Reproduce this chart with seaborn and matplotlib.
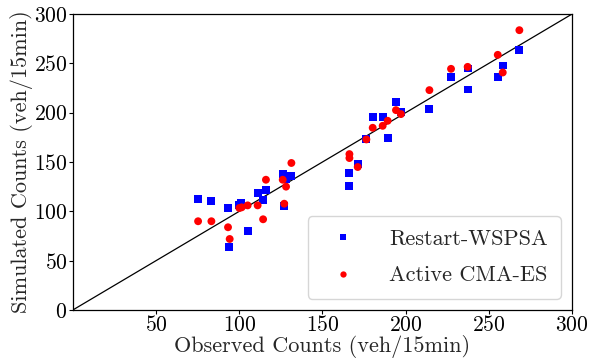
import matplotlib
matplotlib.use("Agg")
import matplotlib.pyplot as plt
import seaborn as sns
import pandas as pd

obs_wspsa = [75.2, 83.2, 93.2, 94.0, 100.0, 101.2, 105.0, 111.0, 116.2, 114.3, 126.1, 131.3, 127.0, 128.1,
             194.2, 180.2, 186.2, 197.4, 214.3, 176.4, 189.2, 171.2, 166.2, 166.2,
             227.3, 237.3, 237.3, 255.4, 258.4, 268.4]
sim_wspsa = [112.8, 110.1, 103.7, 63.5, 106.4, 108.0, 80.0, 118.8, 121.6, 111.4, 137.5, 136.0, 105.7, 133.0,
             210.7, 195.8, 195.8, 200.6, 203.6, 172.9, 174.0, 147.6, 138.8, 125.6,
             235.8, 244.9, 223.6, 235.8, 247.9, 263.7]
obs_cma = [75.2, 83.2, 93.2, 94.2, 100.0, 101.4, 105.0, 111.0, 114.3, 116.0, 126.1, 128.1, 131.3, 127.0,
           194.2, 197.2, 180.2, 186.2, 189.2, 176.4, 166.2, 166.2, 171.2, 214.3,
           227.3, 237.3, 255.4, 258.4, 268.4]
sim_cma = [89.9, 89.9, 83.8, 71.9, 103.3, 104.0, 106.0, 106.0, 91.9, 132.0, 132.0, 125.0, 149.0, 107.7,
           202.6, 198.6, 184.7, 186.7, 191.8, 172.9, 158.0, 154.0, 144.9, 222.9,
           244.5, 246.5, 258.7, 240.8, 283.7]
labels = ["Restart-WSPSA", "Active CMA-ES"]

df = pd.DataFrame({
    "obs": obs_wspsa + obs_cma,
    "sim": sim_wspsa + sim_cma,
    "method": [labels[0]] * len(obs_wspsa) + [labels[1]] * len(obs_cma),
})

sns.set_theme(style="white")
plt.rcParams["font.family"] = ["cmr10", "DejaVu Sans"]
plt.rcParams["mathtext.fontset"] = "cm"
plt.rcParams["axes.formatter.use_mathtext"] = True

fig = plt.figure(figsize=(5.89, 3.62), dpi=100)
ax = fig.add_axes([0.124, 0.144, 0.847, 0.817])

ax.plot([0, 300], [0, 300], color="black", lw=0.9, zorder=1)

sns.scatterplot(data=df, x="obs", y="sim", hue="method", style="method",
                palette={labels[0]: "#0000ff", labels[1]: "#ff0000"},
                markers={labels[0]: "s", labels[1]: "o"},
                s=32, linewidth=0, ax=ax, zorder=3)

ax.set_xlim(0, 300)
ax.set_ylim(0, 300)
ax.set_xticks([50, 100, 150, 200, 250, 300])
ax.set_yticks([0, 50, 100, 150, 200, 250, 300])
ax.tick_params(axis="both", labelsize=15.5, length=3, width=0.8, direction="out",
               colors="black", bottom=True, left=True, pad=1)
for sp in ax.spines.values():
    sp.set_color("black")
    sp.set_linewidth(0.9)
ax.set_xlabel("Observed Counts (veh/15min)", fontsize=16, labelpad=0)
ax.set_ylabel("Simulated Counts (veh/15min)", fontsize=16, labelpad=1)

leg = ax.legend(loc="lower right", fontsize=16, markerscale=0.8, frameon=True,
                borderpad=0.6, handletextpad=1.05, labelspacing=0.75,
                borderaxespad=0.5)
leg.get_frame().set_edgecolor("#cccccc")

fig.savefig("out.png", dpi=100)
